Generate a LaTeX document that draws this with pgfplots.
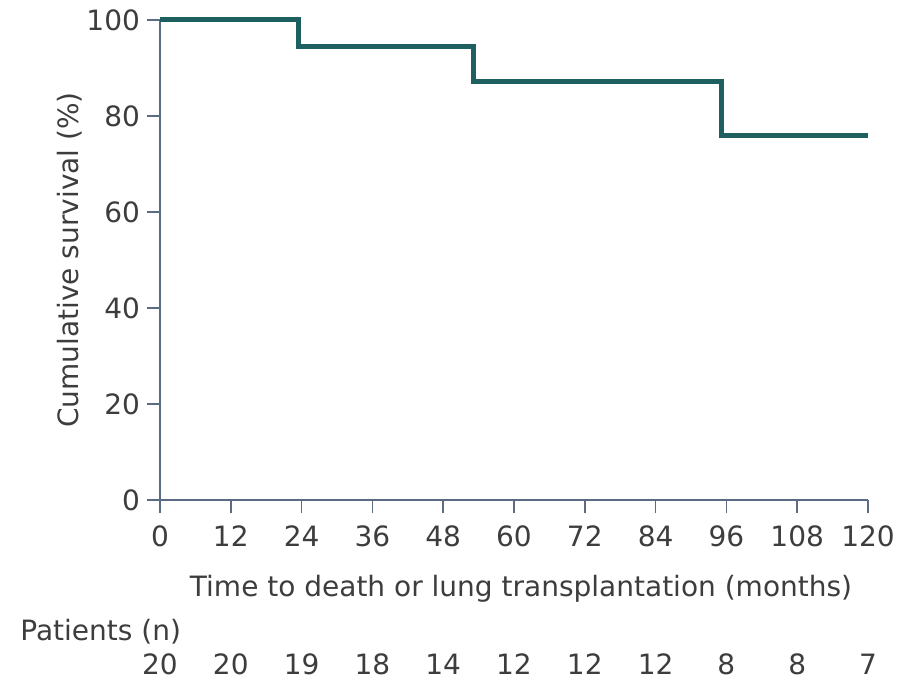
\documentclass[border=0pt]{standalone}
\usepackage{pgfplots}
\pgfplotsset{compat=1.18}
\usepackage{fontspec}
\setmainfont{DejaVu Sans}
\definecolor{txt}{HTML}{3D3D3D}
\definecolor{axc}{HTML}{5B6B82}
\definecolor{km}{HTML}{1E5F5F}
\begin{document}
\begin{tikzpicture}[font=\fontsize{14pt}{16.8pt}\selectfont]
\useasboundingbox (-80pt,-90pt) rectangle (375pt,250pt);
\begin{axis}[
  scale only axis,
  width=354pt, height=240pt,
  xmin=0, xmax=120, ymin=0, ymax=100,
  axis lines*=left,
  axis line style={color=axc, line width=0.75pt},
  xtick={0,12,...,120}, ytick={0,20,...,100},
  tick style={color=axc, line width=0.75pt},
  tick align=outside, major tick length=6.5pt,
  every tick label/.append style={text=txt},
  /pgf/number format/assume math mode=true,
  xticklabel style={yshift=-3pt},
  xlabel={Time to death or lung transplantation (months)},
  ylabel={Cumulative survival (\%)},
  xlabel style={text=txt, at={(axis description cs:0.5,0)}, anchor=center, yshift=-44.5pt, xshift=3.5pt},
  ylabel style={text=txt, at={(axis description cs:-0.127,0.5)}, anchor=center},
  clip=false,
]
\addplot[const plot, color=km, line width=2.5pt] coordinates {
 (0,100) (23.4,94.4) (53.2,87.1) (95.1,76.0) (120,76.0)
};
\foreach \xx/\nn in {0/20,12/20,24/19,36/18,48/14,60/12,72/12,84/12,96/8,108/8,120/7}{
  \edef\tmp{\noexpand\node[text=txt, inner sep=0pt] at (axis cs:\xx,0) [yshift=-82pt] {\nn};}\tmp
}
\end{axis}
\node[text=txt, anchor=west, inner sep=0pt] at (-70pt,-66pt) {Patients (n)};
\end{tikzpicture}
\end{document}
